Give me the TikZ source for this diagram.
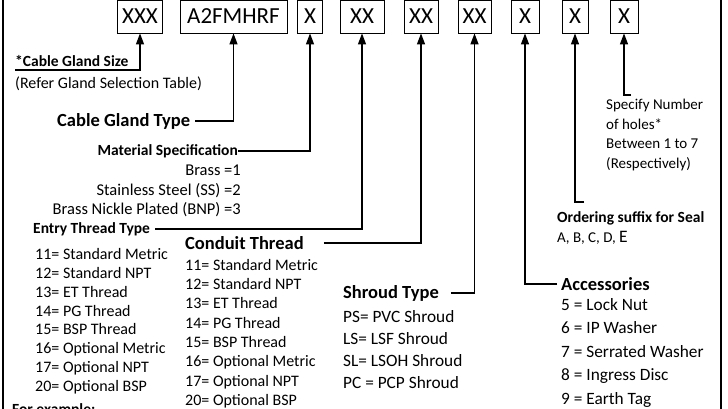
\documentclass[tikz,border=0pt]{standalone}
\usepackage{fontspec}
\setmainfont{Carlito}
\usetikzlibrary{arrows.meta, positioning}

\begin{document}
\begin{tikzpicture}[x=1pt, y=-1pt,
  codebox/.style={draw, line width=0.8pt, minimum height=33pt, inner sep=0pt,
                  font=\fontsize{23}{26}\selectfont},
  head/.style={font=\fontsize{15.5}{19}\selectfont\bfseries, inner sep=0pt},
  bighead/.style={font=\fontsize{18.5}{22}\selectfont\bfseries, inner sep=0pt},
  txt/.style={font=\fontsize{16}{18.9}\selectfont, inner sep=0pt, align=left},
  bigtxt/.style={font=\fontsize{17.3}{22}\selectfont, inner sep=0pt, align=left},
  arr/.style={-{Triangle[length=11pt, width=8pt]}, line width=1.3pt}]
  \useasboundingbox (0,0) rectangle (728,409);
  % frame sides
  \draw[line width=2.5pt] (3,0) -- (3,409);
  \draw[line width=2.5pt] (721,0) -- (721,409);
  % code boxes
  \node[codebox, minimum width=45pt] (bsize) at (140,16.5) {XXX};
  \node[codebox, minimum width=107pt] (btype) at (233.5,16.5) {A2FMHRF};
  \node[codebox, minimum width=25pt] (bmat) at (310,16.5) {X};
  \node[codebox, minimum width=44pt] (bentry) at (362,16.5) {XX};
  \node[codebox, minimum width=34pt] (bconduit) at (421,16.5) {XX};
  \node[codebox, minimum width=33pt] (bshroud) at (474.5,16.5) {XX};
  \node[codebox, minimum width=28pt] (bacc) at (525,16.5) {X};
  \node[codebox, minimum width=26pt] (bseal) at (575,16.5) {X};
  \node[codebox, minimum width=28pt] (bholes) at (624,16.5) {X};
  % labels
  \node[head, anchor=south west, inner ysep=3pt] (size) at (15,70) {*Cable Gland Size};
  \node[txt, anchor=north west] (sizenote) at (15,77) {(Refer Gland Selection Table)};
  \node[bighead, anchor=west] (type) at (57,121) {Cable Gland Type};
  \node[head, anchor=east] (mat) at (238,151) {Material Specification};
  \node[txt, align=right, font=\fontsize{16.5}{19.5}\selectfont, anchor=north east] (matlist) at (241,165)
    {Brass =1\\Stainless Steel (SS) =2\\Brass Nickle Plated (BNP) =3};
  \node[head, anchor=west] (entry) at (33,229) {Entry Thread Type};
  \node[txt, anchor=north west] (entrylist) at (35,248)
    {11= Standard Metric\\12= Standard NPT\\13= ET Thread\\14= PG Thread\\15= BSP Thread\\16= Optional Metric\\17= Optional NPT\\20= Optional BSP};
  \node[head, anchor=north west] (example) at (12,403) {For example:};
  \node[bighead, anchor=west] (conduit) at (185,243) {Conduit Thread};
  \node[txt, font=\fontsize{16}{19.3}\selectfont, anchor=north west] (conduitlist) at (185,259)
    {11= Standard Metric\\12= Standard NPT\\13= ET Thread\\14= PG Thread\\15= BSP Thread\\16= Optional Metric\\17= Optional NPT\\20= Optional BSP};
  \node[bighead, anchor=west] (shroud) at (343,293) {Shroud Type};
  \node[bigtxt, anchor=north west] (shroudlist) at (343,310)
    {PS= PVC Shroud\\LS= LSF Shroud\\SL= LSOH Shroud\\PC = PCP Shroud};
  \node[bighead, anchor=west] (acc) at (561,284) {Accessories};
  \node[bigtxt, font=\fontsize{17.3}{23.5}\selectfont, anchor=north west] (acclist) at (561,298)
    {5 = Lock Nut\\6 = IP Washer\\7 = Serrated Washer\\8 = Ingress Disc\\9 = Earth Tag};
  \node[head, anchor=west] (seal) at (557,218) {Ordering suffix for Seal};
  \node[txt, font=\fontsize{15}{19}\selectfont, anchor=west] (seallist) at (557,238) {A, B, C, D, {\fontsize{17.5}{19}\selectfont E}};
  \node[txt, font=\fontsize{15}{19.5}\selectfont, anchor=north west] (holes) at (606,99)
    {Specify Number\\of holes*\\Between 1 to 7\\(Respectively)};
  % connectors
  \coordinate (sealend) at (584,202);
  \coordinate (holesend) at (631,95);
  \draw[arr] (size.south west) -| (bsize.south);
  \draw[arr] ([xshift=5pt]type.east) -| (btype.south);
  \draw[arr] (mat.east) -| (bmat.south);
  \draw[arr] ([xshift=5pt]entry.east) -| (bentry.south);
  \draw[arr] ([xshift=20pt]conduit.east) -| (bconduit.south);
  \draw[arr] ([xshift=12pt]shroud.east) -| (bshroud.south);
  \draw[arr] ([xshift=-4pt]acc.west) -| (bacc.south);
  \draw[arr] (sealend) -| (bseal.south);
  \draw[arr] (holesend) -| (bholes.south);
\end{tikzpicture}
\end{document}
